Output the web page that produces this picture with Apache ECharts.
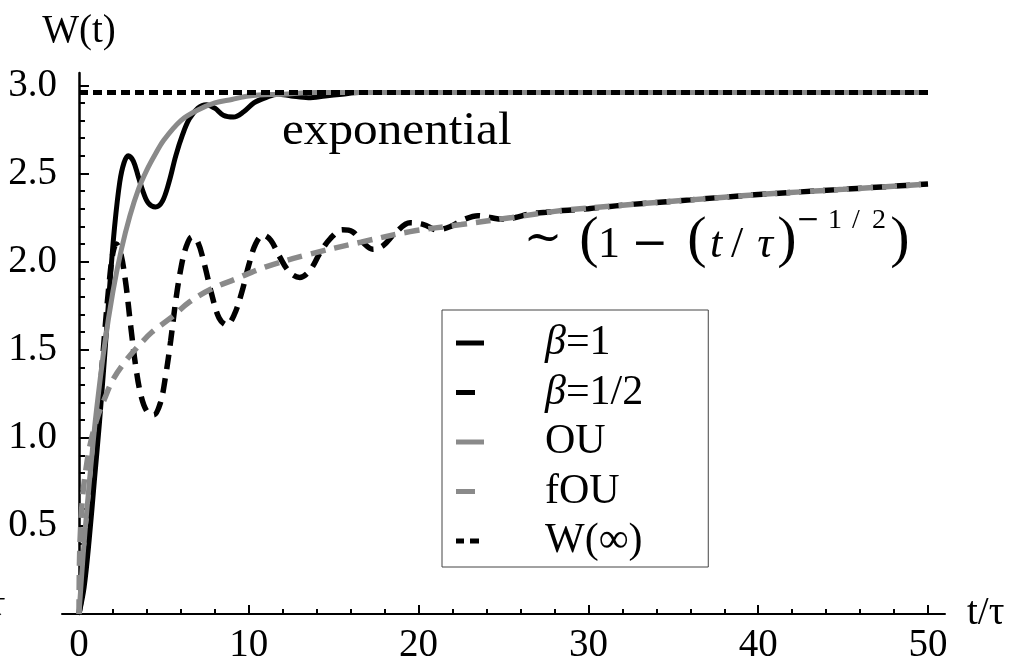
<!DOCTYPE html>
<html>
<head>
<meta charset="utf-8">
<script src="https://cdn.jsdelivr.net/npm/echarts@6/dist/echarts.min.js"></script>
<style>
  html, body { margin: 0; padding: 0; background: #ffffff; }
  #chart { width: 1026px; height: 661px; }
</style>
</head>
<body>
<div id="chart"></div>
<script>
// Tick labels
const xMajorTicks = [0, 10, 20, 30, 40, 50];
const yMajorTicks = [0.5, 1.0, 1.5, 2.0, 2.5, 3.0];

// Series names
const seriesNames = ['β=1', 'β=1/2', 'OU', 'fOU', 'W(∞)'];

// W(t) versus t/τ, pairs of [t/τ, W]
const beta1 = [[0,0],[0.3,0.15],[0.6,0.42],[0.9,0.75],[1.2,1.08],[1.5,1.45],[1.8,1.85],[2.1,2.2],[2.4,2.45],[2.65,2.56],[2.9,2.6],[3.2,2.57],[3.5,2.48],[3.8,2.39],[4.1,2.33],[4.5,2.31],[4.9,2.34],[5.3,2.45],[5.7,2.6],[6.1,2.72],[6.5,2.81],[7.0,2.87],[7.5,2.89],[8.0,2.87],[8.5,2.83],[9.1,2.82],[9.7,2.85],[10.3,2.9],[11.0,2.93],[11.7,2.95],[12.5,2.94],[13.5,2.93],[14.5,2.94],[15.5,2.95],[16.5,2.96],[18,2.96],[25,2.96],[35,2.96],[50,2.96]];

const betaHalf = [[0,0],[0.3,0.2],[0.6,0.5],[0.9,0.85],[1.2,1.2],[1.5,1.58],[1.8,1.9],[2.0,2.05],[2.2,2.1],[2.45,2.05],[2.75,1.88],[3.05,1.63],[3.35,1.4],[3.65,1.24],[4.0,1.15],[4.4,1.13],[4.8,1.2],[5.1,1.35],[5.4,1.55],[5.7,1.78],[6.0,1.96],[6.3,2.08],[6.65,2.14],[7.0,2.11],[7.4,1.98],[7.8,1.82],[8.25,1.68],[8.7,1.64],[9.15,1.7],[9.6,1.83],[10.0,1.98],[10.4,2.1],[10.85,2.15],[11.3,2.12],[11.8,2.03],[12.4,1.94],[13.0,1.91],[13.6,1.95],[14.2,2.05],[14.8,2.13],[15.5,2.18],[16.1,2.17],[16.7,2.11],[17.3,2.07],[17.9,2.09],[18.6,2.16],[19.5,2.22],[20.3,2.21],[21.1,2.18],[21.9,2.2],[22.7,2.24],[23.5,2.26],[24.2,2.25],[24.9,2.24],[25.7,2.25],[26.5,2.27],[27.5,2.28],[28.5,2.29],[30,2.3],[32,2.32],[36,2.35],[40,2.38],[45,2.41],[50,2.44]];

const ou = [[0,0],[0.25,0.34],[0.5,0.63],[0.75,0.89],[1,1.13],[1.5,1.52],[2,1.83],[2.5,2.07],[3,2.26],[3.5,2.41],[4,2.52],[4.5,2.61],[5,2.69],[6,2.8],[7,2.86],[8,2.9],[9,2.92],[10,2.94],[12,2.95],[14,2.96],[20,2.96],[50,2.96]];

const fou = [[0,0],[0.03,0.3],[0.1,0.5],[0.25,0.7],[0.5,0.88],[0.75,1.0],[1.1,1.12],[1.5,1.22],[2,1.33],[2.7,1.43],[3.4,1.51],[4.3,1.6],[5.4,1.68],[6.5,1.77],[7.7,1.84],[9.2,1.9],[11,1.97],[13.5,2.04],[16.6,2.11],[19.5,2.17],[22.5,2.21],[25.5,2.25],[28.5,2.29],[32,2.32],[36,2.35],[40,2.38],[45,2.41],[50,2.44]];

const wInf = [[0,2.96],[50,2.96]];

// Minor tick positions between the labelled ticks
const xMinorTicks = [];
for (let v = 2; v < 50; v += 2) if (v % 10 !== 0) xMinorTicks.push(v);
const yMinorTicks = [];
for (let i = 1; i < 30; i++) if (i % 5 !== 0) yMinorTicks.push(+(i / 10).toFixed(1));

const SERIF = 'Liberation Serif';
const GRAY = '#8a8a8a';
const AXIS_COLOR = '#000';

const chart = echarts.init(document.getElementById('chart'));

function xAxisBase(extra) {
  return Object.assign({
    type: 'value', min: -1, max: 51, gridIndex: 0, position: 'bottom',
    splitLine: { show: false },
    axisLine: { show: true, onZero: true, lineStyle: { color: AXIS_COLOR, width: 2 } }
  }, extra);
}
function yAxisBase(extra) {
  return Object.assign({
    type: 'value', min: 0, max: 3.07, gridIndex: 0, position: 'left',
    splitLine: { show: false },
    axisLine: { show: true, onZero: true, lineStyle: { color: AXIS_COLOR, width: 2.5 } }
  }, extra);
}

const legendIcons = {
  'β=1': 'path://M0,0L0,0M28,5L28,5M0,0H28V5H0Z',
  'β=1/2': 'path://M0,0L0,0M28,5L28,5M0,0H19V5H0Z',
  'OU': 'path://M0,0L0,0M28,5L28,5M0,0H28V5H0Z',
  'fOU': 'path://M0,0L0,0M28,5L28,5M0,0H19V5H0Z',
  'W(∞)': 'path://M0,0L0,0M28,5L28,5M0,0H8V5H0ZM14,0H23V5H14Z'
};

// One glyph of the power-law annotation, centred on cx with its baseline near by
function glyph(ch, cx, by, size, opts) {
  opts = opts || {};
  const family = opts.family || SERIF;
  return {
    type: 'text', x: cx, y: by - 0.3375 * size, silent: true,
    style: {
      text: ch, fill: '#000', align: 'center', verticalAlign: 'middle',
      font: (opts.italic ? 'italic ' : '') + size + 'px "' + family + '"'
    }
  };
}

const powerLawLabel = [
  glyph('∼', 543, 256, 46, { family: 'DejaVu Serif' }),
  glyph('(', 589, 260, 58),
  glyph('1', 609, 260, 44),
  glyph('−', 650, 260, 44, { family: 'DejaVu Serif' }),
  glyph('(', 697, 260, 58),
  glyph('t', 716, 260, 44, { italic: true }),
  glyph('/', 737, 260, 44),
  glyph('τ', 765, 260, 44, { italic: true }),
  glyph(')', 787, 260, 58),
  glyph('−', 808, 230, 28, { family: 'DejaVu Serif' }),
  glyph('1', 835, 230, 28),
  glyph('/', 856, 230, 28),
  glyph('2', 879, 230, 28),
  glyph(')', 900, 260, 58)
];

const option = {
  animation: false,
  backgroundColor: '#ffffff',
  grid: { left: 62, top: 73, width: 883, height: 541, outerBoundsMode: 'none', containLabel: false },
  xAxis: [
    xAxisBase({
      name: 't/τ', nameLocation: 'end', nameGap: 22,
      nameTextStyle: { fontFamily: SERIF, fontSize: 39, color: '#000', align: 'left', verticalAlign: 'middle' },
      axisTick: { show: true, inside: true, length: 9, customValues: xMajorTicks, lineStyle: { color: AXIS_COLOR, width: 2 } },
      axisLabel: { show: true, customValues: xMajorTicks, margin: 12, fontFamily: SERIF, fontSize: 39, color: '#000',
        formatter: v => String(Math.round(v)) }
    }),
    xAxisBase({
      axisLine: { show: false, onZero: true },
      axisTick: { show: true, inside: true, length: 5, customValues: xMinorTicks, lineStyle: { color: AXIS_COLOR, width: 2 } },
      axisLabel: { show: false }
    })
  ],
  yAxis: [
    yAxisBase({
      name: 'W(t)', nameLocation: 'end', nameGap: 22,
      nameTextStyle: { fontFamily: SERIF, fontSize: 39, color: '#000', align: 'center', verticalAlign: 'bottom' },
      axisTick: { show: true, inside: true, length: 10, customValues: yMajorTicks, lineStyle: { color: AXIS_COLOR, width: 2 } },
      axisLabel: { show: true, customValues: yMajorTicks, margin: 5, fontFamily: SERIF, fontSize: 39, color: '#000',
        formatter: v => v.toFixed(1) }
    }),
    yAxisBase({
      axisLine: { show: false, onZero: true },
      axisTick: { show: true, inside: true, length: 6, customValues: yMinorTicks, lineStyle: { color: AXIS_COLOR, width: 2 } },
      axisLabel: { show: false }
    })
  ],
  legend: {
    orient: 'vertical',
    left: 442, top: 310,
    padding: [12, 65, 5, 14],
    itemGap: 7.5,
    itemWidth: 28, itemHeight: 5,
    selectedMode: false,
    borderColor: '#444', borderWidth: 1, backgroundColor: '#fff',
    data: seriesNames.map(n => ({ name: n, icon: legendIcons[n] })),
    formatter: name => name.startsWith('β') ? '{sp| }{g|β}{r|' + name.slice(1) + '}' : '{sp| }{r|' + name + '}',
    textStyle: {
      fontFamily: SERIF, fontSize: 42, color: '#000', lineHeight: 40,
      rich: {
        sp: { width: 56, fontFamily: SERIF, fontSize: 42, lineHeight: 40 },
        g: { fontFamily: SERIF, fontSize: 42, fontStyle: 'italic', color: '#000', lineHeight: 40 },
        r: { fontFamily: SERIF, fontSize: 42, color: '#000', lineHeight: 40 }
      }
    }
  },
  series: [
    { name: 'β=1', type: 'line', data: beta1, showSymbol: false, smooth: 0.35, color: '#000',
      lineStyle: { color: '#000', width: 5 } },
    { name: 'β=1/2', type: 'line', data: betaHalf, showSymbol: false, smooth: 0.35, color: '#000',
      lineStyle: { color: '#000', width: 5.5, type: [15, 9] } },
    { name: 'OU', type: 'line', data: ou, showSymbol: false, smooth: 0.35, color: GRAY,
      lineStyle: { color: GRAY, width: 5 } },
    { name: 'fOU', type: 'line', data: fou, showSymbol: false, smooth: 0.35, color: GRAY,
      lineStyle: { color: GRAY, width: 5.5, type: [15, 9] } },
    { name: 'W(∞)', type: 'line', data: wInf, showSymbol: false, color: '#000',
      lineStyle: { color: '#000', width: 5, type: [9, 5] } }
  ],
  graphic: [
    { type: 'text', x: 282, y: 132, scaleX: 1.07, silent: true,
      style: { text: 'exponential', font: '46px "' + SERIF + '"', fill: '#000', verticalAlign: 'middle' } },
    { type: 'group', children: powerLawLabel },
    { type: 'text', x: -10, y: 606, silent: true,
      style: { text: 'τ', font: 'italic 38px "' + SERIF + '"', fill: '#000', verticalAlign: 'middle' } }
  ]
};

chart.setOption(option);
</script>
</body>
</html>
